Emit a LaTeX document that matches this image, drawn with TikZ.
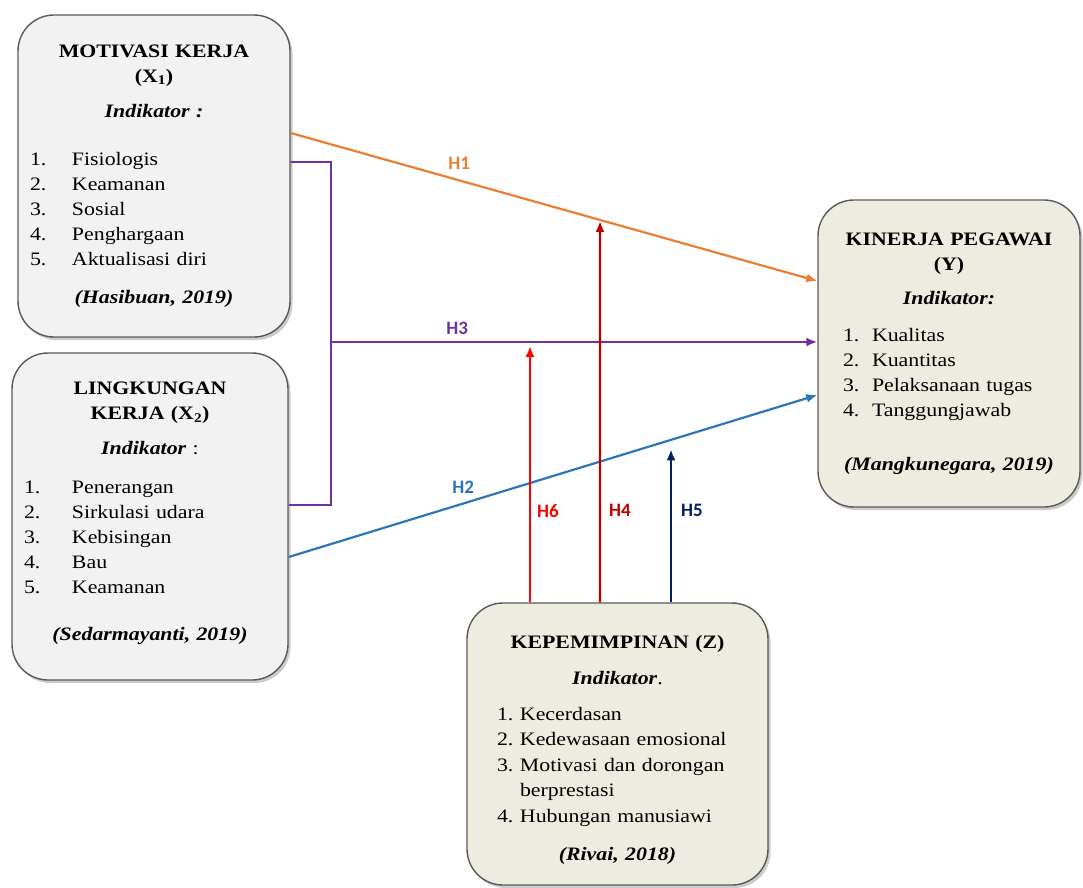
\documentclass[tikz,border=0pt]{standalone}
\usepackage{fontspec}
\setmainfont{Liberation Serif}[FakeStretch=1.15]
\newfontfamily\hfont{Carlito}
\usepackage{tikz}
\usetikzlibrary{arrows.meta}
\usetikzlibrary{calc}
\usetikzlibrary{intersections}
\usetikzlibrary{shadows}

\definecolor{boxgrey}{HTML}{F2F2F2}
\definecolor{boxbeige}{HTML}{EEECE1}
\definecolor{edgegrey}{HTML}{595959}
\definecolor{hone}{HTML}{ED7D31}
\definecolor{htwo}{HTML}{2E75B6}
\definecolor{hthree}{HTML}{7030A0}
\definecolor{hfour}{HTML}{C00000}
\definecolor{hsix}{HTML}{FF0000}
\definecolor{hfive}{HTML}{002060}

\newcommand{\indlist}[3]{\makebox[\linewidth][l]{\begin{tabular}{@{\hspace{#1}}p{#2}@{}l@{}}#3\end{tabular}}}

\tikzset{
  varbox/.style={draw=edgegrey, line width=1.4pt, rounded corners=36pt, align=center,
    font=\fontsize{19}{25}\selectfont, inner sep=9pt,
    drop shadow={shadow xshift=2.5pt, shadow yshift=-3pt, fill=black!40}},
  hpath/.style={line width=2.2pt, -{Latex[length=11pt,width=9pt]}},
  hlabel/.style={font=\hfont\bfseries\fontsize{19}{22}\selectfont, inner sep=2pt},
}

\begin{document}
\begin{tikzpicture}[x=1pt, y=-1pt]
    \useasboundingbox (0, 0) rectangle (1083, 887);

    \node[varbox, fill=boxgrey, minimum width=272pt, minimum height=322pt, text width=254pt] (x1) at (154, 176) {%
        \textbf{MOTIVASI KERJA}\\
        \textbf{(X\textsubscript{1})}\\[10pt]
        \textbf{\textit{Indikator :}}\\[30pt]
        \indlist{3pt}{42pt}{1. & Fisiologis\\ 2. & Keamanan\\ 3. & Sosial\\ 4. & Penghargaan\\ 5. & Aktualisasi diri}\\[16pt]
        \textbf{\textit{(Hasibuan, 2019)}}\rule[-4pt]{0pt}{4pt}};

    \node[varbox, fill=boxgrey, minimum width=276pt, minimum height=327pt, text width=258pt] (x2) at (150, 516.5) {%
        \textbf{LINGKUNGAN}\\
        \textbf{KERJA (X\textsubscript{2})}\\[10pt]
        \textbf{\textit{Indikator}} :\\[20pt]
        \indlist{3pt}{48pt}{1. & Penerangan\\ 2. & Sirkulasi udara\\ 3. & Kebisingan\\ 4. & Bau\\ 5. & Keamanan}\\[25pt]
        \textbf{\textit{(Sedarmayanti, 2019)}}\rule[-11pt]{0pt}{11pt}};

    \node[varbox, fill=boxbeige, minimum width=262pt, minimum height=307pt, text width=244pt] (y) at (949, 353.5) {%
        \textbf{KINERJA PEGAWAI}\\
        \textbf{(Y)}\\[9pt]
        \textbf{\textit{Indikator:}}\\[19pt]
        \indlist{16pt}{29pt}{1. & Kualitas\\ 2. & Kuantitas\\ 3. & Pelaksanaan tugas\\ 4. & Tanggungjawab}\\[32pt]
        \textbf{\textit{(Mangkunegara, 2019)}}};

    \node[varbox, fill=boxbeige, minimum width=301pt, minimum height=282pt, text width=283pt] (z) at (617.5, 744) {%
        \rule{0pt}{24.5pt}\textbf{KEPEMIMPINAN (Z)}\\[11pt]
        \textbf{\textit{Indikator}}.\\[17pt]
        \fontsize{19}{25.5}\selectfont
        \indlist{21pt}{23pt}{1. & Kecerdasan\\ 2. & Kedewasaan emosional\\ 3. & Motivasi dan dorongan\\ & berprestasi\\ 4. & Hubungan manusiawi}\\[16pt]
        \textbf{\textit{(Rivai, 2018)}}};

    % ends of the arrows
    \coordinate (h1s) at ([yshift=43pt]x1.east);
    \coordinate (h1e) at ([yshift=72.5pt]y.west);
    \coordinate (jn) at ([xshift=40pt]x1.east |- 0, 342);
    \coordinate (z6) at ([xshift=-87.5pt]z.north);
    \coordinate (z4) at ([xshift=-17.5pt]z.north);
    \coordinate (z5) at ([xshift=53.5pt]z.north);

    \draw[hpath, hone, name path=h1line] (h1s) -- node[hlabel, above=8pt, pos=0.32] (l1) {H1} (h1e);
    \draw[hthree, line width=2.2pt] ([yshift=14pt]x1.east) -| (jn) |- ([yshift=11.5pt]x2.east);
    \draw[hpath, hthree] (jn) -- node[hlabel, above=4pt, pos=0.26] (l3) {H3} (jn -| y.west);
    \draw[hpath, htwo] ([yshift=-40.5pt]x2.east) -- node[hlabel, above=7pt, pos=0.33] (l2) {H2} ([yshift=-41.5pt]y.west);

    \path[name path=v4] (z4) -- ++(0, -500);
    \path[name intersections={of=h1line and v4, by=x4}];
    \draw[hpath, hsix, shorten >=4pt] (z6) -- node[hlabel, right=4pt, pos=0.35] (l6) {H6} (z6 |- jn);
    \draw[hpath, hfour, shorten >=1pt] (z4) -- node[hlabel, right=6pt, pos=0.24] (l4) {H4} (x4);
    \draw[hpath, hfive] (z5) -- node[hlabel, right=7pt, pos=0.6] (l5) {H5} ([yshift=153pt]z5);
\end{tikzpicture}
\end{document}
